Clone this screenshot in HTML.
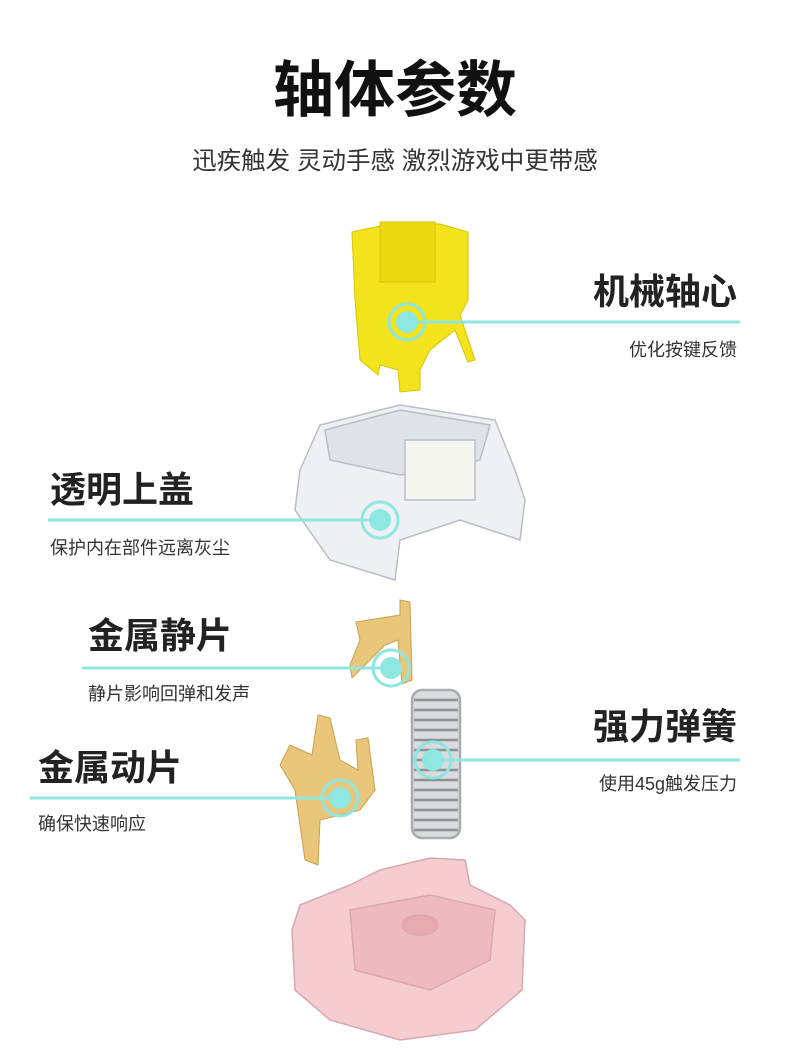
<!DOCTYPE html>
<html><head><meta charset="utf-8"><style>
body{margin:0;width:790px;height:1052px;background:#fff;position:relative;overflow:hidden;font-family:"Liberation Sans","Noto Sans CJK SC",sans-serif;color:#222}
.t{position:absolute;white-space:nowrap}
.h{font-weight:bold;font-size:36px;color:#222;line-height:40px}
.s{font-size:18px;color:#333;line-height:20px}
svg{position:absolute;left:0;top:0}
</style></head><body>
<svg width="790" height="1052">
<g fill="#f2e31c" stroke="#d8c500" stroke-width="1">
<polygon points="352,232 385,225 390,222 440,224 468,232 468,300 460,315 475,360 468,362 455,330 430,350 420,370 420,390 400,392 398,370 380,365 378,375 360,360 355,300"/>
<rect x="380" y="222" width="55" height="60" fill="#ecd90f"/>
</g>
<g fill="#eef0f3" stroke="#b9bdc4" stroke-width="1.5">
<polygon points="300,470 320,425 400,405 495,420 515,470 525,500 520,540 460,520 400,540 395,580 330,560 295,510"/>
<polygon points="325,430 400,410 490,425 480,460 400,475 330,460" fill="#dfe3e8"/>
<rect x="405" y="440" width="70" height="60" fill="#f6f6f0"/>
</g>
<g fill="#e9c67a" stroke="#c9a04f">
<polygon points="400,600 410,602 412,680 402,684 398,640 385,645 370,660 352,678 350,665 360,640 356,622 400,615"/>
</g>
<g stroke="#8d9196" stroke-width="2.5" fill="none">
<rect x="412" y="690" width="48" height="148" rx="10" fill="#d9dbdd" stroke="#a9adb1"/>
<path d="M414 700h44M414 710h44M414 720h44M414 730h44M414 740h44M414 750h44M414 760h44M414 770h44M414 780h44M414 790h44M414 800h44M414 810h44M414 820h44M414 830h44"/>
</g>
<g fill="#e9c67a" stroke="#c9a04f">
<polygon points="318,715 330,718 340,760 358,770 356,740 368,738 375,790 360,810 340,815 320,820 318,865 305,860 295,790 280,765 290,745 312,755"/>
</g>
<g fill="#f5cdd1" stroke="#d9a7ad" stroke-width="1.5">
<polygon points="300,905 350,885 380,870 430,858 465,860 470,885 510,905 525,920 522,990 475,1030 400,1040 330,1020 295,990 292,930"/>
<polygon points="350,910 430,895 495,910 490,960 430,990 355,970" fill="#eeb9bf"/>
<ellipse cx="420" cy="925" rx="18" ry="10" fill="#e6a9b0"/>
</g>
<g stroke="#8ee6e0" stroke-width="3" fill="none">
<line x1="407" y1="322" x2="740" y2="322"/>
<line x1="48" y1="520" x2="380" y2="520"/>
<line x1="82" y1="668" x2="391" y2="668"/>
<line x1="433" y1="760" x2="740" y2="760"/>
<line x1="30" y1="798" x2="340" y2="798"/>
<circle cx="407" cy="322" r="18"/><circle cx="380" cy="520" r="18"/><circle cx="391" cy="668" r="18"/><circle cx="433" cy="760" r="18"/><circle cx="340" cy="798" r="18"/>
</g>
<g fill="#8ee6e0"><circle cx="407" cy="322" r="11"/><circle cx="380" cy="520" r="11"/><circle cx="391" cy="668" r="11"/><circle cx="433" cy="760" r="11"/><circle cx="340" cy="798" r="11"/></g>
</svg>
<div class="t" style="left:0;width:790px;text-align:center;top:56px;font-size:61px;line-height:68px;font-weight:bold;color:#111">轴体参数</div>
<div class="t" style="left:0;width:790px;text-align:center;top:148px;font-size:24.5px;line-height:28px;color:#333">迅疾触发 灵动手感 激烈游戏中更带感</div>
<div class="t h" style="right:53px;top:272px">机械轴心</div>
<div class="t s" style="right:53px;top:340px">优化按键反馈</div>
<div class="t h" style="left:50px;top:470px">透明上盖</div>
<div class="t s" style="left:50px;top:538px">保护内在部件远离灰尘</div>
<div class="t h" style="left:88px;top:616px">金属静片</div>
<div class="t s" style="left:88px;top:684px">静片影响回弹和发声</div>
<div class="t h" style="right:53px;top:707px">强力弹簧</div>
<div class="t s" style="right:53px;top:774px">使用45g触发压力</div>
<div class="t h" style="left:38px;top:748px">金属动片</div>
<div class="t s" style="left:38px;top:814px">确保快速响应</div>
</body></html>
